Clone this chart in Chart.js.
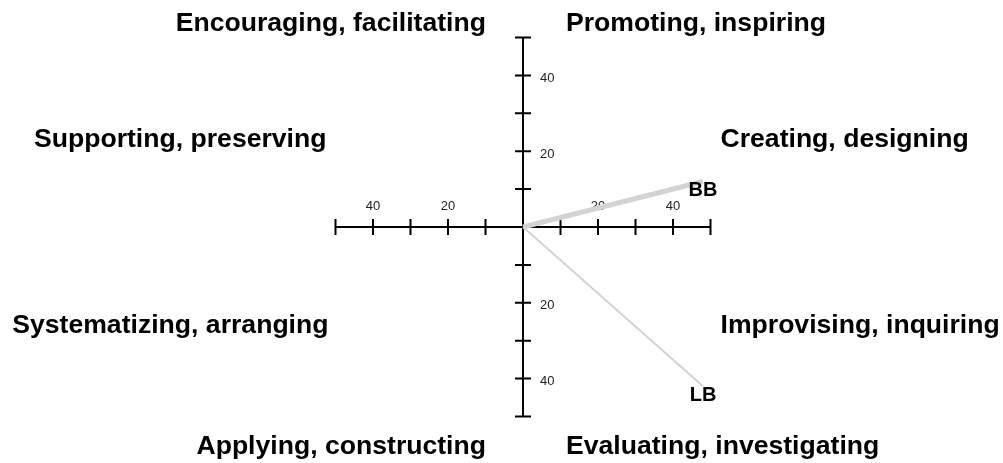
<!DOCTYPE html>
<html>
<head>
<meta charset="utf-8">
<script src="https://cdn.jsdelivr.net/npm/chart.js@4"></script>
<style>
  html, body { margin: 0; padding: 0; background: #fff; }
  #wrap { width: 1003px; height: 463px; }
</style>
</head>
<body>
<div id="wrap"><canvas id="chart"></canvas></div>
<script>
// data
const seriesNames = ["BB", "LB"];
const seriesX = [48, 48];
const seriesY = [12, -42];
const seriesWidths = [5, 2];
const axisTicks = [-50, -40, -30, -20, -10, 10, 20, 30, 40, 50];
const tickLabels = [-40, -20, 20, 40];
// quadrant captions: [left side, right side] for top, upper, lower, bottom rows
const topLabels = ["Encouraging, facilitating", "Promoting, inspiring"];
const upperLabels = ["Supporting, preserving", "Creating, designing"];
const lowerLabels = ["Systematizing, arranging", "Improvising, inquiring"];
const bottomLabels = ["Applying, constructing", "Evaluating, investigating"];

const FONT = '"Liberation Sans", Arial, Helvetica, sans-serif';

const crossAxes = {
  id: "crossAxes",
  beforeDatasetsDraw(chart) {
    const ctx = chart.ctx;
    const xs = chart.scales.x, ys = chart.scales.y;
    const cx = xs.getPixelForValue(0), cy = ys.getPixelForValue(0);
    ctx.save();
    ctx.strokeStyle = "#000";
    ctx.lineWidth = 2;
    ctx.beginPath();
    ctx.moveTo(xs.getPixelForValue(-50), cy);
    ctx.lineTo(xs.getPixelForValue(50), cy);
    ctx.moveTo(cx, ys.getPixelForValue(50));
    ctx.lineTo(cx, ys.getPixelForValue(-50));
    axisTicks.forEach(v => {
      const px = xs.getPixelForValue(v);
      ctx.moveTo(px, cy - 8);
      ctx.lineTo(px, cy + 8);
      const py = ys.getPixelForValue(v);
      ctx.moveTo(cx - 8, py);
      ctx.lineTo(cx + 8, py);
    });
    ctx.stroke();

    ctx.fillStyle = "#222";
    ctx.font = "13px " + FONT;
    ctx.textAlign = "center";
    ctx.textBaseline = "middle";
    tickLabels.forEach(v => {
      ctx.fillText(String(Math.abs(v)), xs.getPixelForValue(v), cy - 21);
    });
    ctx.textAlign = "left";
    tickLabels.forEach(v => {
      ctx.fillText(String(Math.abs(v)), cx + 17, ys.getPixelForValue(v) + 3);
    });
    ctx.restore();
  },
  afterDatasetsDraw(chart) {
    const ctx = chart.ctx;
    const xs = chart.scales.x, ys = chart.scales.y;
    const area = chart.chartArea;
    const cx = xs.getPixelForValue(0);
    ctx.save();
    ctx.fillStyle = "#000";
    ctx.font = "bold 20px " + FONT;
    ctx.textAlign = "center";
    ctx.textBaseline = "middle";
    seriesNames.forEach((name, i) => {
      ctx.fillText(name, xs.getPixelForValue(seriesX[i]), ys.getPixelForValue(seriesY[i]) + 9);
    });

    ctx.font = "bold 26.6px " + FONT;
    ctx.textBaseline = "alphabetic";
    ctx.textAlign = "right";
    ctx.fillText(topLabels[0], cx - 37, 31);
    ctx.fillText(bottomLabels[0], cx - 37, 454);
    ctx.fillText(upperLabels[0], area.left - 9, 147);
    ctx.fillText(lowerLabels[0], area.left - 7, 333);
    ctx.textAlign = "left";
    ctx.fillText(topLabels[1], cx + 43, 31);
    ctx.fillText(bottomLabels[1], cx + 43, 454);
    ctx.fillText(upperLabels[1], area.right + 10, 147);
    ctx.fillText(lowerLabels[1], area.right + 10, 333);
    ctx.restore();
  }
};

new Chart(document.getElementById("chart"), {
  type: "scatter",
  data: {
    datasets: seriesNames.map((name, i) => ({
      label: name,
      data: [{ x: 0, y: 0 }, { x: seriesX[i], y: seriesY[i] }],
      showLine: true,
      borderColor: "#d3d3d3",
      borderWidth: seriesWidths[i],
      pointRadius: 0,
      fill: false
    }))
  },
  options: {
    responsive: true,
    maintainAspectRatio: false,
    animation: false,
    layout: { padding: { left: 335.5, right: 292.5, top: 37.5, bottom: 46.5 } },
    plugins: { legend: { display: false }, tooltip: { enabled: false } },
    scales: {
      x: { type: "linear", min: -50, max: 50, display: false },
      y: { type: "linear", min: -50, max: 50, display: false }
    }
  },
  plugins: [crossAxes]
});
</script>
</body>
</html>
